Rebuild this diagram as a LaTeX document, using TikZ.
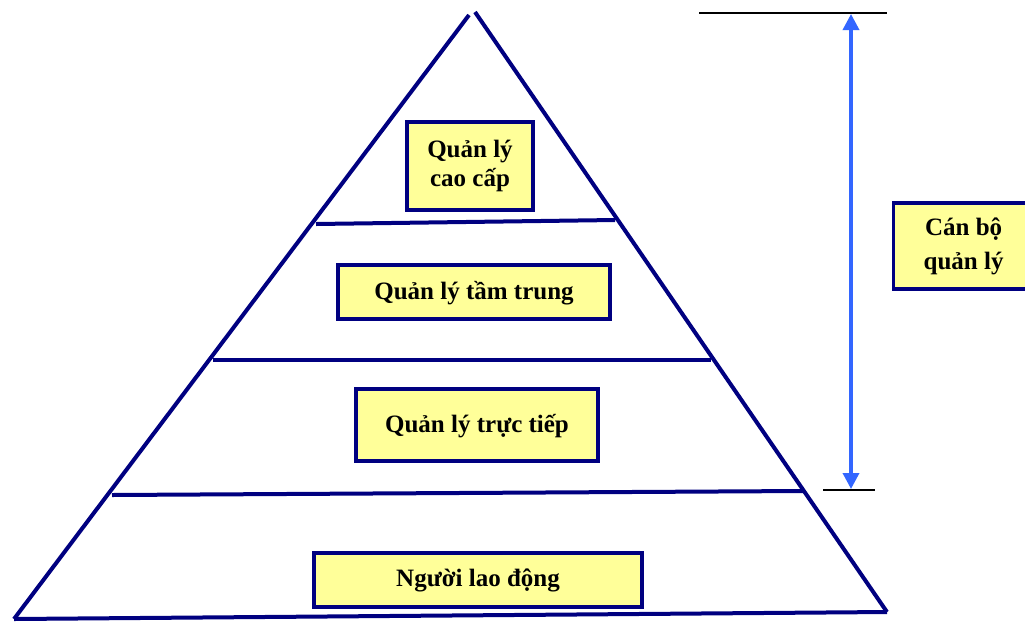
\documentclass[tikz,border=0pt]{standalone}
\usepackage{fontspec}
\setmainfont{Liberation Serif}
\usetikzlibrary{arrows.meta}
\definecolor{pyrline}{HTML}{000080}
\definecolor{boxfill}{HTML}{FFFF99}
\definecolor{arrowblue}{HTML}{3366FF}
\begin{document}
\begin{tikzpicture}[x=1pt,y=-1pt,
  edge/.style={draw=pyrline,line width=4pt},
  levelbox/.style={draw=pyrline,fill=boxfill,line width=3.2pt,inner sep=0pt,
    font=\bfseries\fontsize{25}{29}\selectfont,align=center},
  marker/.style={draw=black,line width=1.5pt}]
\useasboundingbox (0,0) rectangle (1025,622);
% pyramid outline
\coordinate (apexL) at (469,15);
\coordinate (apexR) at (475,12);
\coordinate (baseL) at (14,619);
\coordinate (baseR) at (887,612);
\draw[edge] (apexL) -- (baseL);
\draw[edge] (apexR) -- (baseR);
\draw[edge] (baseL) -- (baseR);
% level dividers
\coordinate (d1l) at (316,224); \coordinate (d1r) at (615,220);
\coordinate (d2l) at (213,360); \coordinate (d2r) at (711,360);
\coordinate (d3l) at (112,495); \coordinate (d3r) at (803,491);
\draw[edge] (d1l) -- (d1r);
\draw[edge] (d2l) -- (d2r);
\draw[edge] (d3l) -- (d3r);
% level labels
\node[levelbox,minimum width=126pt,minimum height=88pt] (top) at (470,166) {Quản lý\\cao cấp};
\node[levelbox,minimum width=272pt,minimum height=54pt,text depth=4pt] (mid) at (474,292) {Quản lý tầm trung};
\node[levelbox,minimum width=242pt,minimum height=72pt,text depth=4pt] (low) at (477,425) {Quản lý trực tiếp};
\node[levelbox,minimum width=328pt,minimum height=54pt,text depth=4pt] (work) at (478,580) {Người lao động};
% management span marker
\coordinate (t1) at (699,13); \coordinate (t2) at (887,13);
\coordinate (b1) at (823,490); \coordinate (b2) at (875,490);
\draw[marker] (t1) -- (t2);
\draw[marker] (b1) -- (b2);
\coordinate (aTop) at (851,14);
\coordinate (aBot) at (851,489);
\draw[draw=arrowblue,line width=3.5pt,{Triangle[width=16pt,length=16pt]}-{Triangle[width=16pt,length=16pt]}] (aTop) -- (aBot);
\node[levelbox,minimum width=140pt,minimum height=86pt,anchor=west,
  font=\bfseries\fontsize{25}{34}\selectfont] (staff) at (892,246) {Cán bộ\\quản lý};
\end{tikzpicture}
\end{document}
